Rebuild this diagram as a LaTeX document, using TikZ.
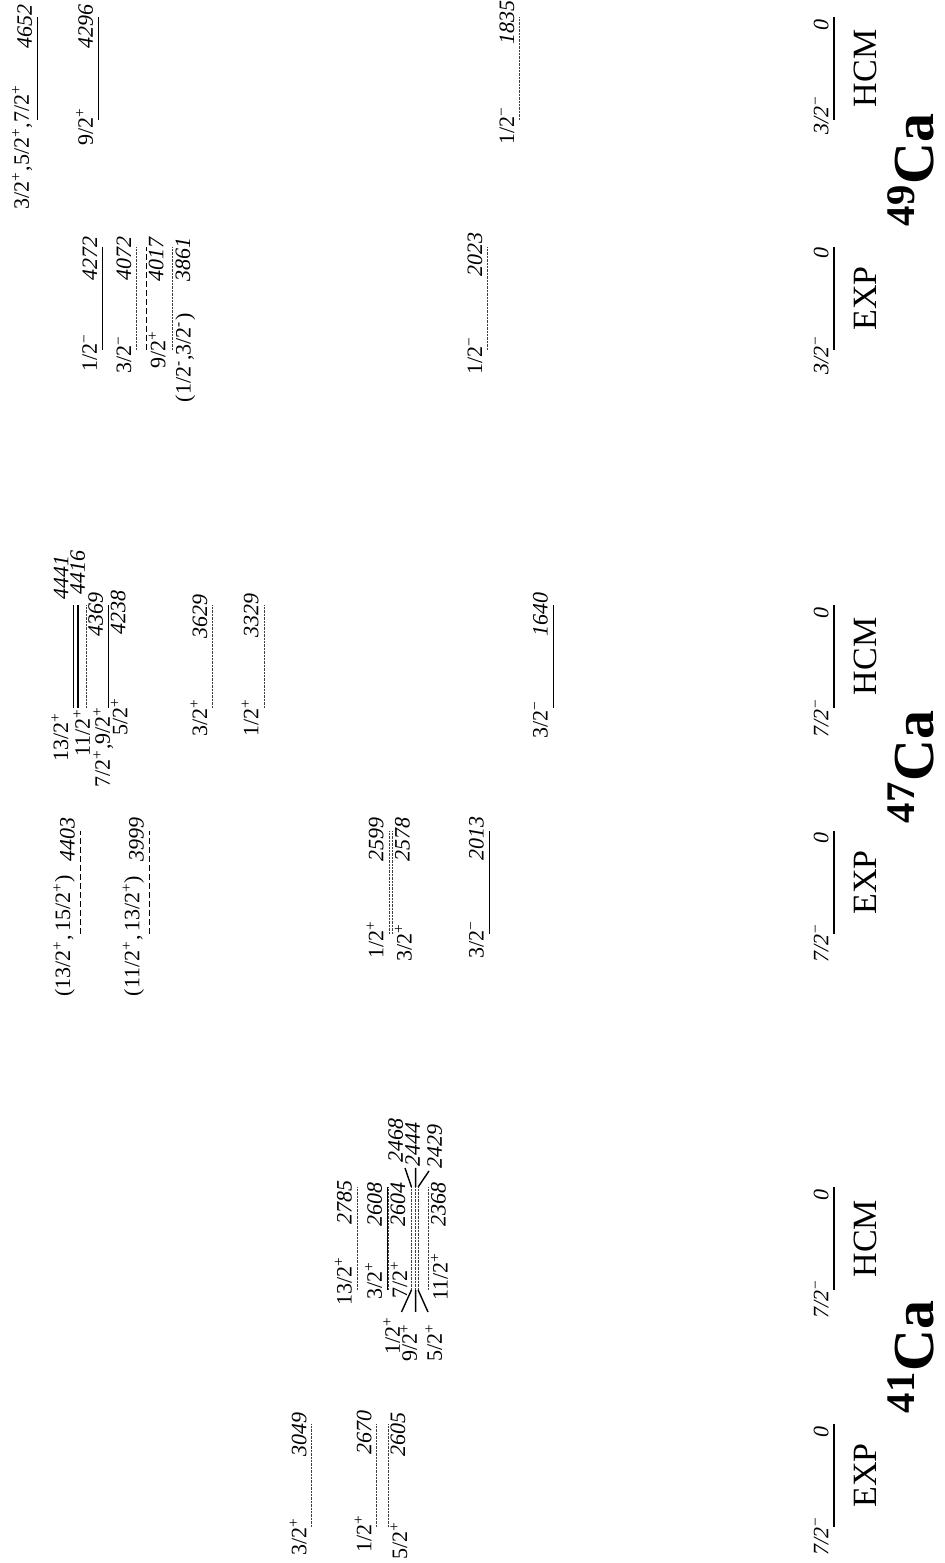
\documentclass[tikz,border=0pt]{standalone}
\usepackage{fontspec}
\setmainfont{Liberation Serif}
\newcommand{\pp}{\textsuperscript{+}}
\newcommand{\mm}{\textsuperscript{−}}
\newcommand{\hm}{\textsuperscript{-}}

\begin{document}
\begin{tikzpicture}[x=0.5pt,y=0.5pt,rotate=90,transform shape,
  lvl/.style={line width=0.7pt},
  lvlDot/.style={line width=0.5pt,black!75,dash pattern=on 1.2pt off 0.5pt},
  lvlDash/.style={line width=0.5pt,dash pattern=on 3pt off 1.5pt},
  spin/.style={anchor=south,inner sep=2.5pt,font=\fontsize{11}{13}\selectfont},
  spinB/.style={spin,anchor=north,inner sep=1pt},
  en/.style={spin,font=\fontsize{11}{13}\selectfont\itshape},
  enB/.style={en,anchor=north,inner sep=1pt},
  gs/.style={en},
  tag/.style={font=\fontsize{17}{20}\selectfont},
  iso/.style={anchor=base,inner sep=0pt,font=\fontsize{29}{33}\selectfont\bfseries},
  lead/.style={line width=0.7pt}]
\useasboundingbox (0,0) rectangle (1563,945);
\def\vo{111}
\def\kev{0.1712}
\def\dl{103}
\def\cA{36}
\def\cB{273}
\def\cC{629}
\def\cD{855}
\def\cE{1213}
\def\cF{1443}

% 41Ca EXP
\draw[lvl] (\cA,\vo) -- ++(\dl,0);
\node[gs] (s41e0) at (\cA-9,\vo) {7/2\mm};
\node[en] (n41e0) at (\cA+\dl-8,\vo) {0};
\draw[lvlDot] (\cA,{\vo+\kev*2605}) -- ++(\dl,0);
\node[spinB] (s41e1) at (\cA-14,{\vo+\kev*2605}) {5/2\pp};
\node[enB] (n41e1) at (\cA+\dl-11,{\vo+\kev*2605}) {2605};
\draw[lvlDot] (\cA,{\vo+\kev*2670}) -- ++(\dl,0);
\node[spin] (s41e2) at (\cA-7,{\vo+\kev*2670}) {1/2\pp};
\node[en] (n41e2) at (\cA+\dl-9,{\vo+\kev*2670}) {2670};
\draw[lvlDot] (\cA,{\vo+\kev*3049}) -- ++(\dl,0);
\node[spin] (s41e3) at (\cA-10,{\vo+\kev*3049}) {3/2\pp};
\node[en] (n41e3) at (\cA+\dl-11,{\vo+\kev*3049}) {3049};
\node[tag] (t41e) at (\cA+\dl/2,80) {EXP};

% 41Ca HCM
\draw[lvl] (\cB,\vo) -- ++(\dl,0);
\node[gs] (s41h0) at (\cB-9,\vo) {7/2\mm};
\node[en] (n41h0) at (\cB+\dl-8,\vo) {0};
\draw[lvlDot] (\cB,{\vo+\kev*2368}) -- ++(\dl,0);
\node[spinB] (s41h1) at (\cB+13,{\vo+\kev*2368}) {11/2\pp};
\node[enB] (n41h1) at (\cB+85,{\vo+\kev*2368}) {2368};
\draw[lvlDot] (\cB,{\vo+\kev*2429}) -- ++(\dl,0);
\draw[lvlDot] (\cB,{\vo+\kev*2444}) -- ++(\dl,0);
\draw[lvlDot] (\cB,{\vo+\kev*2468}) -- ++(\dl,0);
\draw[lvlDot] (\cB,{\vo+\kev*2604}) -- ++(\dl,0);
\node[spinB] (s41h5) at (\cB+10,{\vo+\kev*2604}) {7/2\pp};
\node[enB] (n41h5) at (\cB+85,{\vo+\kev*2604}) {2604};
\draw[lvl] (\cB,{\vo+\kev*2608}) -- ++(\dl,0);
\node[spin] (s41h6) at (\cB+9,{\vo+\kev*2608}) {3/2\pp};
\node[en] (n41h6) at (\cB+85,{\vo+\kev*2608}) {2608};
\draw[lvlDot] (\cB,{\vo+\kev*2785}) -- ++(\dl,0);
\node[spin] (s41h7) at (\cB+9,{\vo+\kev*2785}) {13/2\pp};
\node[en] (n41h7) at (\cB+87,{\vo+\kev*2785}) {2785};
\node[tag] (t41h) at (\cB+\dl/2,80) {HCM};

% 41Ca HCM, crowded levels with leaders
\coordinate (p2468) at (\cB,{\vo+\kev*2468});
\coordinate (p2444) at (\cB,{\vo+\kev*2444});
\coordinate (p2429) at (\cB,{\vo+\kev*2429});
\coordinate (q2468) at (\cB+\dl,{\vo+\kev*2468});
\coordinate (q2444) at (\cB+\dl,{\vo+\kev*2444});
\coordinate (q2429) at (\cB+\dl,{\vo+\kev*2429});
\coordinate (a2468) at (\cB-22,543.5);
\coordinate (a2444) at (\cB-22,529.4);
\coordinate (a2429) at (\cB-22,517);
\coordinate (b2468) at (\cB+\dl+19,540);
\coordinate (b2444) at (\cB+\dl+19,529.4);
\coordinate (b2429) at (\cB+\dl+16,516);
\draw[lead] (p2468) -- (a2468);
\draw[lead] (p2444) -- (a2444);
\draw[lead] (p2429) -- (a2429);
\draw[lead] (q2468) -- (b2468);
\draw[lead] (q2444) -- (b2444);
\draw[lead] (q2429) -- (b2429);
\node[spin,anchor=base] (s41h4) at (227,545) {1/2\pp};
\node[spin,anchor=base] (s41h3) at (220,528) {9/2\pp};
\node[spin,anchor=base] (s41h2) at (220,503) {5/2\pp};
\node[en,anchor=base] (n41h4) at (422,542) {2468};
\node[en,anchor=base] (n41h3) at (418,525) {2444};
\node[en,anchor=base] (n41h2) at (416,503) {2429};

\node[iso] (i41) at (206,12) {\textsuperscript{41}Ca};

% 47Ca EXP
\draw[lvl] (\cC,\vo) -- ++(\dl,0);
\node[gs] (s47e0) at (\cC-9,\vo) {7/2\mm};
\node[en] (n47e0) at (\cC+\dl-7,\vo) {0};
\draw[lvl] (\cC,{\vo+\kev*2013}) -- ++(\dl,0);
\node[spin] (s47e1) at (\cC-6,{\vo+\kev*2013}) {3/2\mm};
\node[en] (n47e1) at (\cC+\dl-8,{\vo+\kev*2013}) {2013};
\draw[lvlDot] (\cC,{\vo+\kev*2578}) -- ++(\dl,0);
\node[spinB] (s47e2) at (\cC-9,{\vo+\kev*2578}) {3/2\pp};
\node[enB] (n47e2) at (\cC+\dl-9,{\vo+\kev*2578}) {2578};
\draw[lvlDot] (\cC,{\vo+\kev*2599}) -- ++(\dl,0);
\node[spin] (s47e3) at (\cC-6,{\vo+\kev*2599}) {1/2\pp};
\node[en] (n47e3) at (\cC+\dl-9,{\vo+\kev*2599}) {2599};
\draw[lvlDash] (\cC,{\vo+\kev*3999}) -- ++(\dl,0);
\node[spin] (s47e4) at (\cC-2,{\vo+\kev*3999}) {(11/2\pp,\,13/2\pp)};
\node[en] (n47e4) at (\cC+\dl-9,{\vo+\kev*3999}) {3999};
\draw[lvlDash] (\cC,{\vo+\kev*4403}) -- ++(\dl,0);
\node[spin] (s47e5) at (\cC-2,{\vo+\kev*4403}) {(13/2\pp,\,15/2\pp)};
\node[en] (n47e5) at (\cC+\dl-9,{\vo+\kev*4403}) {4403};
\node[tag] (t47e) at (\cC+\dl/2,80) {EXP};

% 47Ca HCM
\draw[lvl] (\cD,\vo) -- ++(\dl,0);
\node[gs] (s47h0) at (\cD-10,\vo) {7/2\mm};
\node[en] (n47h0) at (\cD+\dl-8,\vo) {0};
\draw[lvl] (\cD,{\vo+\kev*1640}) -- ++(\dl,0);
\node[spin] (s47h1) at (\cD-12,{\vo+\kev*1640}) {3/2\mm};
\node[en] (n47h1) at (\cD+\dl-10,{\vo+\kev*1640}) {1640};
\draw[lvlDot] (\cD,{\vo+\kev*3329}) -- ++(\dl,0);
\node[spin] (s47h2) at (\cD-10,{\vo+\kev*3329}) {1/2\pp};
\node[en] (n47h2) at (\cD+\dl-11,{\vo+\kev*3329}) {3329};
\draw[lvlDot] (\cD,{\vo+\kev*3629}) -- ++(\dl,0);
\node[spin] (s47h3) at (\cD-10,{\vo+\kev*3629}) {3/2\pp};
\node[en] (n47h3) at (\cD+\dl-12,{\vo+\kev*3629}) {3629};
\draw[lvl] (\cD,{\vo+\kev*4238}) -- ++(\dl,0);
\node[spinB] (s47h4) at (\cD-9,{\vo+\kev*4238}) {5/2\pp};
\node[enB] (n47h4) at (\cD+\dl-8,{\vo+\kev*4238}) {4238};
\draw[lvlDot] (\cD,{\vo+\kev*4369}) -- ++(\dl,0);
\node[spin,anchor=base] (s47h5) at (\cD-39,835) {7/2\pp,9/2\pp};
\node[enB] (n47h5) at (\cD+\dl-10,{\vo+\kev*4369}) {4369};
\draw[lvl] (\cD,{\vo+\kev*4416}) -- ++(\dl,0);
\node[spin,anchor=base] (s47h6) at (\cD-25,855) {11/2\pp};
\node[en,anchor=base west] (n47h6) at (\cD+\dl+5,860) {4416};
\draw[lvl] (\cD,{\vo+\kev*4441}) -- ++(\dl,0);
\node[spin] (s47h7) at (\cD-29,{\vo+\kev*4441}) {13/2\pp};
\node[en,anchor=south west] (n47h7) at (\cD+\dl,{\vo+\kev*4441}) {4441};
\node[tag] (t47h) at (\cD+\dl/2,80) {HCM};

\node[iso] (i47) at (796,12) {\textsuperscript{47}Ca};

% 49Ca EXP
\draw[lvl] (\cE,\vo) -- ++(\dl,0);
\node[gs] (s49e0) at (\cE-5,\vo) {3/2\mm};
\node[en] (n49e0) at (\cE+\dl-6,\vo) {0};
\draw[lvlDot] (\cE,{\vo+\kev*2023}) -- ++(\dl,0);
\node[spin] (s49e1) at (\cE-6,{\vo+\kev*2023}) {1/2\mm};
\node[en] (n49e1) at (\cE+\dl-8,{\vo+\kev*2023}) {2023};
\draw[lvlDot] (\cE,{\vo+\kev*3861}) -- ++(\dl,0);
\node[spinB] (s49e2) at (\cE-8,{\vo+\kev*3861}) {(1/2\hm,3/2\hm)};
\node[enB] (n49e2) at (\cE+\dl-13,{\vo+\kev*3861}) {3861};
\draw[lvlDash] (\cE,{\vo+\kev*4017}) -- ++(\dl,0);
\node[spinB] (s49e3) at (\cE,{\vo+\kev*4017}) {9/2\pp};
\node[enB] (n49e3) at (\cE+\dl-13,{\vo+\kev*4017}) {4017};
\draw[lvlDot] (\cE,{\vo+\kev*4072}) -- ++(\dl,0);
\node[spin] (s49e4) at (\cE-5,{\vo+\kev*4072}) {3/2\mm};
\node[en] (n49e4) at (\cE+\dl-12,{\vo+\kev*4072}) {4072};
\draw[lvl] (\cE,{\vo+\kev*4272}) -- ++(\dl,0);
\node[spin] (s49e5) at (\cE-3,{\vo+\kev*4272}) {1/2\mm};
\node[en] (n49e5) at (\cE+\dl-12,{\vo+\kev*4272}) {4272};
\node[tag] (t49e) at (\cE+\dl/2,80) {EXP};

% 49Ca HCM
\draw[lvl] (\cF,\vo) -- ++(\dl,0);
\node[gs] (s49h0) at (\cF+5,\vo) {3/2\mm};
\node[en] (n49h0) at (\cF+\dl-8,\vo) {0};
\draw[lvlDot] (\cF,{\vo+\kev*1835}) -- ++(\dl,0);
\node[spin] (s49h1) at (\cF-6,{\vo+\kev*1835}) {1/2\mm};
\node[en] (n49h1) at (\cF+\dl-6,{\vo+\kev*1835}) {1835};
\draw[lvl] (\cF,{\vo+\kev*4296}) -- ++(\dl,0);
\node[spin] (s49h2) at (\cF-7,{\vo+\kev*4296}) {9/2\pp};
\node[en] (n49h2) at (\cF+\dl-10,{\vo+\kev*4296}) {4296};
\draw[lvl] (\cF,{\vo+\kev*4652}) -- ++(\dl,0);
\node[spin] (s49h3) at (\cF-27,{\vo+\kev*4652}) {3/2\pp,5/2\pp,7/2\pp};
\node[en] (n49h3) at (\cF+\dl-10,{\vo+\kev*4652}) {4652};
\node[tag] (t49h) at (\cF+\dl/2,80) {HCM};

\node[iso] (i49) at (1393,12) {\textsuperscript{49}Ca};
\end{tikzpicture}
\end{document}
